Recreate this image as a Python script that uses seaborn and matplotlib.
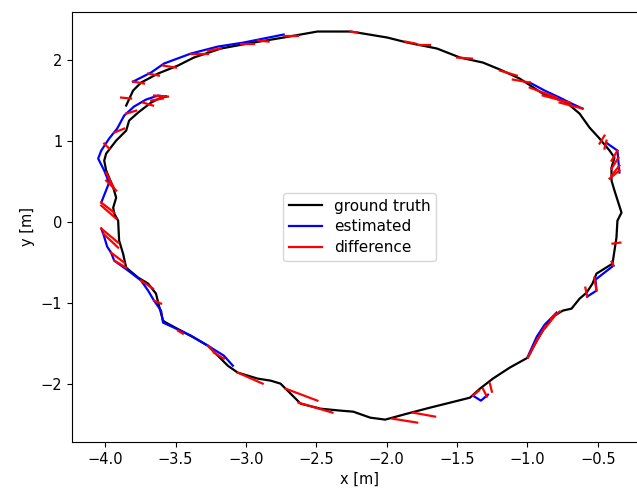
import numpy as np
import pandas as pd
import matplotlib
matplotlib.use("Agg")
import matplotlib.pyplot as plt
from matplotlib.lines import Line2D
import seaborn as sns

# ground truth trajectory [m]
gt_x = [-3.851, -3.802, -3.745, -3.625, -3.483, -3.370, -3.178, -2.987, -2.732, -2.492,
        -2.258, -2.208, -1.996, -1.854, -1.642, -1.479, -1.316, -1.195, -1.054, -0.891,
        -0.721, -0.629, -0.558, -0.487, -0.416, -0.381, -0.402, -0.402, -0.381, -0.331,
        -0.360, -0.367, -0.381, -0.395, -0.509, -0.537, -0.579, -0.629, -0.686, -0.749,
        -0.806, -0.877, -0.933, -0.997, -1.125, -1.245, -1.337, -1.408, -1.550, -1.691,
        -1.854, -2.010, -2.116, -2.237, -2.329, -2.470, -2.612, -2.647, -2.704, -2.754,
        -2.824, -2.916, -3.058, -3.129, -3.200, -3.271, -3.370, -3.462, -3.568, -3.589,
        -3.618, -3.639, -3.695, -3.766, -3.851, -3.873, -3.901, -3.908, -3.936, -3.943,
        -3.922, -3.943, -3.993, -4.007, -3.993, -3.922, -3.851, -3.830, -3.766, -3.674,
        -3.603, -3.568]
gt_y = [1.432, 1.617, 1.716, 1.827, 1.926, 2.025, 2.136, 2.198, 2.272, 2.346,
        2.346, 2.333, 2.272, 2.210, 2.136, 2.025, 1.963, 1.877, 1.765, 1.580,
        1.469, 1.333, 1.160, 1.025, 0.877, 0.790, 0.667, 0.506, 0.383, 0.111,
        0.012, -0.198, -0.358, -0.519, -0.642, -0.765, -0.877, -0.951, -1.074, -1.099,
        -1.160, -1.309, -1.469, -1.679, -1.802, -1.938, -2.062, -2.173, -2.235, -2.296,
        -2.370, -2.444, -2.420, -2.346, -2.333, -2.309, -2.247, -2.185, -2.086, -2.000,
        -1.963, -1.938, -1.864, -1.778, -1.654, -1.531, -1.432, -1.346, -1.247, -1.222,
        -1.037, -0.889, -0.765, -0.691, -0.568, -0.395, -0.235, 0.012, 0.099, 0.173,
        0.296, 0.420, 0.630, 0.753, 0.840, 1.000, 1.123, 1.247, 1.346, 1.469,
        1.531, 1.543]

# estimated trajectory, split into the pieces where it is available
est_x = [-3.802, -3.674, -3.582, -3.391, -3.200, -3.016, -2.732,
         -3.568, -3.625, -3.710, -3.795, -3.865, -3.915, -3.972, -4.028, -4.050, -4.007, -3.972, -4.028,
         -4.028, -4.014, -3.986, -3.958, -3.936, -3.837, -3.745, -3.695, -3.653, -3.603, -3.589,
         -3.511, -3.391, -3.271, -3.157, -3.093,
         -0.983, -0.877, -0.771, -0.686, -0.608,
         -0.431, -0.360, -0.346,
         -0.575, -0.509, -0.516, -0.388,
         -0.997, -0.933, -0.877, -0.792,
         -1.387, -1.330, -1.280]
est_y = [1.728, 1.840, 1.951, 2.074, 2.160, 2.210, 2.309,
         1.543, 1.556, 1.506, 1.420, 1.309, 1.148, 1.025, 0.877, 0.778, 0.630, 0.481, 0.235,
         -0.086, -0.148, -0.309, -0.383, -0.481, -0.605, -0.728, -0.852, -0.975, -1.099, -1.247,
         -1.309, -1.407, -1.531, -1.654, -1.778,
         1.716, 1.617, 1.531, 1.457, 1.395,
         0.963, 0.877, 0.605,
         -0.926, -0.852, -0.716, -0.543,
         -1.667, -1.420, -1.272, -1.123,
         -2.148, -2.210, -2.136]
est_piece = [0] * 7 + [1] * 12 + [2] * 16 + [3] * 5 + [4] * 3 + [5] * 4 + [6] * 4 + [7] * 3

# difference lines: estimated point -> ground truth point
diff_x0 = [-3.802, -3.695, -3.589, -3.391, -3.271, -3.037, -2.916, -2.732, -3.887,
           -2.258, -1.868, -1.776, -1.500, -1.195, -1.103, -0.983, -0.891, -0.771,
           -0.487, -0.452, -0.402, -0.402, -0.402, -0.416, -0.395, -0.388, -0.523, -0.575,
           -0.997, -0.941, -0.877, -0.834,
           -1.387, -1.316, -1.266,
           -1.960, -1.812, -2.718, -2.626, -3.058,
           -3.653, -3.483, -3.271, -3.228, -3.745, -3.936, -3.958, -4.014, -4.028, -4.028, -4.028, -3.993,
           -3.653, -3.674, -3.731, -3.851, -3.936, -4.007, -3.993]
diff_y0 = [1.728, 1.827, 1.926, 2.074, 2.111, 2.198, 2.235, 2.296, 1.531,
           2.346, 2.222, 2.185, 2.025, 1.864, 1.753, 1.654, 1.556, 1.469,
           0.963, 0.901, 0.753, 0.654, 0.568, 0.531, -0.272, -0.543, -0.691, -0.926,
           -1.679, -1.494, -1.321, -1.198,
           -2.148, -2.062, -2.000,
           -2.432, -2.358, -2.062, -2.235, -1.864,
           -0.975, -1.346, -1.531, -1.617, -0.728, -0.481, -0.383, -0.148, -0.086, 0.198, 0.235, 0.506,
           1.556, 1.494, 1.469, 1.333, 1.099, 0.963, 0.605]
diff_x1 = [-3.724, -3.618, -3.497, -3.271, -3.178, -2.945, -2.839, -2.633, -3.816,
           -2.208, -1.797, -1.691, -1.394, -1.075, -0.983, -0.792, -0.700, -0.608,
           -0.452, -0.438, -0.360, -0.353, -0.346, -0.346, -0.339, -0.402, -0.509, -0.588,
           -0.926, -0.870, -0.799, -0.771,
           -1.344, -1.288, -1.252,
           -1.783, -1.656, -2.492, -2.385, -2.881,
           -3.603, -3.448, -3.214, -3.157, -3.660, -3.851, -3.865, -3.908, -3.908, -3.922, -3.936, -3.922,
           -3.554, -3.589, -3.660, -3.780, -3.865, -3.972, -3.936]
diff_y1 = [1.704, 1.802, 1.901, 2.074, 2.136, 2.198, 2.222, 2.296, 1.519,
           2.333, 2.198, 2.185, 2.012, 1.802, 1.716, 1.531, 1.469, 1.395,
           1.062, 1.000, 0.877, 0.790, 0.691, 0.630, -0.259, -0.494, -0.852, -0.815,
           -1.444, -1.284, -1.148, -1.111,
           -2.086, -2.160, -2.099,
           -2.481, -2.407, -2.210, -2.358, -2.000,
           -1.012, -1.383, -1.630, -1.691, -0.827, -0.568, -0.506, -0.321, -0.259, 0.037, 0.111, 0.383,
           1.543, 1.519, 1.432, 1.370, 1.148, 0.901, 0.407]

gt_df = pd.DataFrame({"x": gt_x, "y": gt_y, "piece": 0})
est_df = pd.DataFrame({"x": est_x, "y": est_y, "piece": est_piece})
n = len(diff_x0)
diff_df = pd.DataFrame({
    "x": np.ravel(np.column_stack([diff_x0, diff_x1])),
    "y": np.ravel(np.column_stack([diff_y0, diff_y1])),
    "piece": np.repeat(np.arange(n), 2),
})

fig = plt.figure(figsize=(6.37, 4.90), dpi=100)
ax = fig.add_axes([0.113, 0.098, 0.904, 0.878])

common = dict(x="x", y="y", units="piece", estimator=None, sort=False, legend=False, ax=ax, linewidth=1.6)
sns.lineplot(data=gt_df, color="black", **common)
sns.lineplot(data=est_df, color="blue", **common)
sns.lineplot(data=diff_df, color="red", **common)

ax.set_xlim(-4.236, -0.144)
ax.set_ylim(-2.72, 2.59)
ax.set_xticks(np.arange(-4.0, -0.4, 0.5))
ax.tick_params(labelsize=10.5)
ax.set_xlabel("x [m]", fontsize=10.5)
ax.set_ylabel("y [m]", fontsize=10.5)

handles = [Line2D([], [], color="black", lw=1.6),
           Line2D([], [], color="blue", lw=1.6),
           Line2D([], [], color="red", lw=1.6)]
ax.legend(handles, ["ground truth", "estimated", "difference"], loc="center",
          fontsize=11, labelspacing=0.37, handlelength=2.1)

fig.savefig("out.png", dpi=100)
